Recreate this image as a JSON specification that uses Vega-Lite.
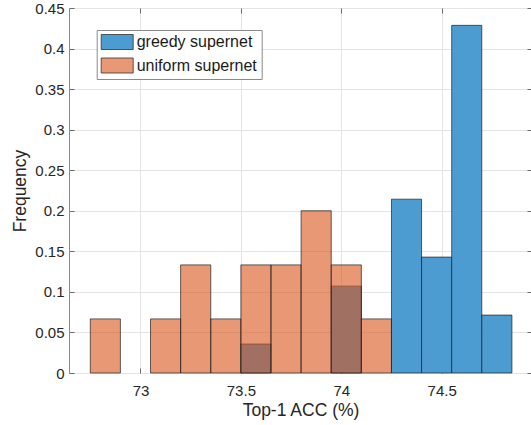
{
  "$schema": "https://vega.github.io/schema/vega-lite/v6.json",
  "width": 463,
  "height": 365,
  "autosize": "none",
  "padding": {"left": 69, "top": 8, "right": 0, "bottom": 52},
  "background": "white",
  "config": {
    "font": "Liberation Sans",
    "view": {"stroke": "#8a8a8a", "strokeWidth": 1},
    "axis": {
      "labelFont": "Liberation Sans",
      "titleFont": "Liberation Sans",
      "labelFontSize": 15,
      "labelColor": "#262626",
      "titleFontSize": 17.5,
      "titleFontWeight": "normal",
      "titleColor": "#262626",
      "gridColor": "#e4e4e4",
      "gridWidth": 1,
      "tickColor": "#6b6b6b",
      "tickSize": -5,
      "domain": false
    }
  },
  "data": {
    "values": [
      {"series": "greedy supernet", "start": 73.5, "end": 73.65, "freq": 0.0357},
      {"series": "greedy supernet", "start": 73.95, "end": 74.1, "freq": 0.1071},
      {"series": "greedy supernet", "start": 74.25, "end": 74.4, "freq": 0.2143},
      {"series": "greedy supernet", "start": 74.4, "end": 74.55, "freq": 0.1429},
      {"series": "greedy supernet", "start": 74.55, "end": 74.7, "freq": 0.4286},
      {"series": "greedy supernet", "start": 74.7, "end": 74.85, "freq": 0.0714},
      {"series": "uniform supernet", "start": 72.75, "end": 72.9, "freq": 0.0667},
      {"series": "uniform supernet", "start": 73.05, "end": 73.2, "freq": 0.0667},
      {"series": "uniform supernet", "start": 73.2, "end": 73.35, "freq": 0.1333},
      {"series": "uniform supernet", "start": 73.35, "end": 73.5, "freq": 0.0667},
      {"series": "uniform supernet", "start": 73.5, "end": 73.65, "freq": 0.1333},
      {"series": "uniform supernet", "start": 73.65, "end": 73.8, "freq": 0.1333},
      {"series": "uniform supernet", "start": 73.8, "end": 73.95, "freq": 0.2},
      {"series": "uniform supernet", "start": 73.95, "end": 74.1, "freq": 0.1333},
      {"series": "uniform supernet", "start": 74.1, "end": 74.25, "freq": 0.0667}
    ]
  },
  "layer": [
    {
      "mark": {"type": "rect", "stroke": "#1a1a1a", "strokeWidth": 0.8, "strokeOpacity": 0.85},
      "encoding": {
        "x": {
          "field": "start",
          "type": "quantitative",
          "scale": {"domain": [72.644, 74.95], "nice": false, "zero": false},
          "axis": {
            "orient": "bottom",
            "values": [73, 73.5, 74, 74.5],
            "format": "~g",
            "grid": true,
            "labelPadding": 15,
            "title": "Top-1 ACC (%)",
            "titlePadding": 3
          }
        },
        "x2": {"field": "end"},
        "y": {
          "field": "freq",
          "type": "quantitative",
          "scale": {"domain": [0, 0.45], "nice": false},
          "axis": {
            "orient": "left",
            "values": [0, 0.05, 0.1, 0.15, 0.2, 0.25, 0.3, 0.35, 0.4, 0.45],
            "format": "~g",
            "grid": true,
            "labelPadding": 10,
            "title": "Frequency",
            "titlePadding": 5
          }
        },
        "y2": {"datum": 0},
        "color": {
          "field": "series",
          "type": "nominal",
          "scale": {"domain": ["greedy supernet", "uniform supernet"], "range": ["#4d9cd1", "#d95319"]},
          "legend": {
            "orient": "none",
            "legendX": 27.7,
            "legendY": 22,
            "title": null,
            "padding": 4,
            "strokeColor": "#8a8a8a",
            "fillColor": "white",
            "labelFont": "Liberation Sans",
            "labelFontSize": 16,
            "labelColor": "#1a1a1a",
            "symbolType": "M-1,-1H3.267V1H-1Z",
            "symbolSize": 225,
            "symbolStrokeColor": "#333333",
            "symbolStrokeWidth": 0.8,
            "labelOffset": 20,
            "rowPadding": 3.5,
            "encode": {
              "symbols": {
                "update": {
                  "fillOpacity": {"signal": "datum.value === 'uniform supernet' ? 0.6 : 1"},
                  "opacity": {"value": 1}
                }
              }
            }
          }
        },
        "fillOpacity": {
          "field": "series",
          "type": "nominal",
          "scale": {"domain": ["greedy supernet", "uniform supernet"], "range": [1, 0.6]},
          "legend": null
        }
      }
    },
    {
      "mark": {"type": "rect", "opacity": 0},
      "encoding": {
        "x": {
          "field": "start",
          "type": "quantitative",
          "axis": {"orient": "top", "values": [73, 73.5, 74, 74.5], "labels": false, "grid": false, "title": null}
        },
        "x2": {"field": "end"},
        "y": {
          "field": "freq",
          "type": "quantitative",
          "axis": {"orient": "right", "values": [0, 0.05, 0.1, 0.15, 0.2, 0.25, 0.3, 0.35, 0.4, 0.45], "labels": false, "grid": false, "title": null}
        },
        "y2": {"datum": 0}
      }
    }
  ],
  "resolve": {"axis": {"x": "independent", "y": "independent"}}
}
